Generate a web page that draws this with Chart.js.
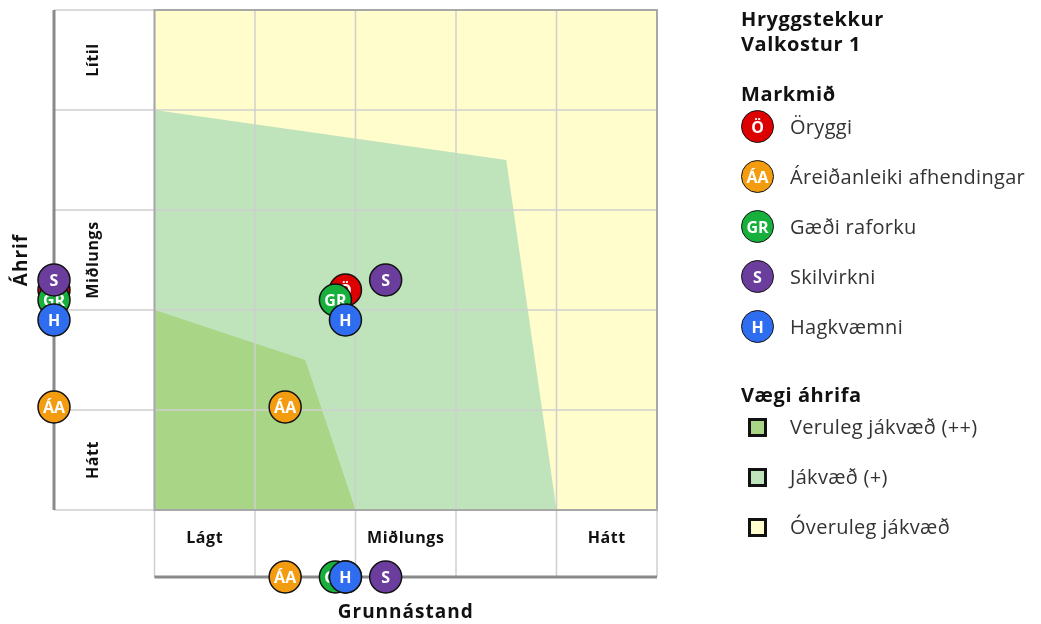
<!DOCTYPE html>
<html>
<head>
<meta charset="utf-8">
<script src="https://cdn.jsdelivr.net/npm/chart.js@4/dist/chart.umd.min.js"></script>
<style>
    html, body { margin: 0; padding: 0; background: #fff; }
    body { width: 1041px; height: 624px; position: relative; overflow: hidden; font-family: 'Open Sans', sans-serif; }
    #wrap { position: absolute; left: 0; top: 0; width: 1041px; height: 624px; }
    #legend { position: absolute; left: 741px; top: 0; width: 300px; color: #222; }
    .ttl { position: absolute; left: 0; font-weight: 700; font-size: 20px; letter-spacing: 0.6px; color: #111; white-space: nowrap; line-height: 24px; }
    .item { position: absolute; left: 0; height: 34px; white-space: nowrap; }
    .dot { position: absolute; left: 0; top: 0; width: 31px; height: 31px; border: 1.5px solid #111; border-radius: 50%;
        color: #fff; font-weight: 700; font-size: 16px; text-align: center; line-height: 32px; }
    .sq { position: absolute; left: 7px; top: 8px; width: 13px; height: 13px; border: 3px solid #111; }
    .lbl { position: absolute; left: 49px; top: 0; line-height: 34px; font-size: 20px; color: #333; letter-spacing: 0.3px; }
</style>
</head>
<body>
<div id="wrap"><canvas id="chart"></canvas></div>
<div id="legend"></div>
<script>
// Markmið (objectives)
const objectives = ['Öryggi', 'Áreiðanleiki afhendingar', 'Gæði raforku', 'Skilvirkni', 'Hagkvæmni'];
const codes = ['Ö', 'ÁA', 'GR', 'S', 'H'];
const colors = ['#dd0000', '#f39c0f', '#17b03c', '#6b3d9c', '#2f6df0'];
// position on Grunnástand (x) and Áhrif (y), 0..5
const baseline = [1.9, 1.3, 1.8, 2.3, 1.9];
const impact = [2.2, 1.03, 2.1, 2.3, 1.9];

// Vægi áhrifa zones (outline points, filled down to 0)
const zoneNames = ['Veruleg jákvæð (++)', 'Jákvæð (+)', 'Óveruleg jákvæð'];
const zoneColors = ['#a9d586', '#bfe3ba', '#fffdcc'];
const strongZone = [{x: 0, y: 2}, {x: 1.5, y: 1.5}, {x: 2, y: 0}];
const positiveZone = [{x: 0, y: 4}, {x: 3.5, y: 3.5}, {x: 4, y: 0}];
const minorZone = [{x: 0, y: 5}, {x: 5, y: 5}];

const xCatLabels = ['Lágt', '', 'Miðlungs', '', 'Hátt'];
const yCatLabels = ['Hátt', '', 'Miðlungs', '', 'Lítil'];
const gridSteps = [0, 1, 2, 3, 4, 5];
const sideAxisX = -1;      // left strip axis
const bottomAxisY = -0.67; // bottom strip axis

const zoneDs = (data, color, order, id) => ({
    id, data, order,
    showLine: true, fill: 'origin',
    backgroundColor: color, borderWidth: 0, pointRadius: 0
});

const pointDs = objectives.map((name, i) => ({
    label: name,
    code: codes[i],
    data: [
        {x: baseline[i], y: impact[i]},
        {x: sideAxisX, y: impact[i]},
        {x: baseline[i], y: bottomAxisY}
    ],
    order: 5 - i,
    clip: false,
    pointRadius: 16,
    pointBackgroundColor: colors[i],
    pointBorderColor: '#111',
    pointBorderWidth: 1.5
}));

const framePlugin = {
    id: 'frame',
    afterDatasetDraw(chart, args) {
        const ctx = chart.ctx;
        const ds = chart.data.datasets[args.index];
        const xs = chart.scales.x, ys = chart.scales.y;

        if (ds.code) {
            ctx.save();
            ctx.fillStyle = '#fff';
            ctx.font = 'bold 16px "Open Sans"';
            ctx.textAlign = 'center';
            ctx.textBaseline = 'middle';
            args.meta.data.forEach(el => ctx.fillText(ds.code, el.x, el.y + 1));
            ctx.restore();
            return;
        }
        if (ds.id !== 'strong') return;

        const top = ys.getPixelForValue(5), y0 = ys.getPixelForValue(0), yb = ys.getPixelForValue(bottomAxisY);
        const left = xs.getPixelForValue(sideAxisX), x0 = xs.getPixelForValue(0), x5 = xs.getPixelForValue(5);

        ctx.save();
        // grid
        ctx.strokeStyle = '#cfcfcf';
        ctx.lineWidth = 1.5;
        gridSteps.forEach(v => {
            const px = xs.getPixelForValue(v);
            ctx.beginPath(); ctx.moveTo(px, top); ctx.lineTo(px, yb); ctx.stroke();
            const py = ys.getPixelForValue(v);
            ctx.beginPath(); ctx.moveTo(left, py); ctx.lineTo(x5, py); ctx.stroke();
        });
        // plot border
        ctx.strokeStyle = '#a8a8a8';
        ctx.lineWidth = 2;
        ctx.strokeRect(x0, top, x5 - x0, y0 - top);
        // axis lines
        ctx.strokeStyle = '#8a8a8a';
        ctx.lineWidth = 3;
        ctx.beginPath(); ctx.moveTo(left, top); ctx.lineTo(left, y0); ctx.stroke();
        ctx.beginPath(); ctx.moveTo(x0, yb); ctx.lineTo(x5, yb); ctx.stroke();

        // category labels
        ctx.fillStyle = '#111';
        ctx.font = 'bold 16px "Open Sans"';
        ctx.letterSpacing = '0.6px';
        ctx.textAlign = 'center';
        ctx.textBaseline = 'middle';
        xCatLabels.forEach((t, i) => {
            if (!t) return;
            ctx.fillText(t, xs.getPixelForValue(i + 0.5), 538);
        });
        yCatLabels.forEach((t, i) => {
            if (!t) return;
            ctx.save();
            ctx.translate(93, ys.getPixelForValue(i + 0.5));
            ctx.rotate(-Math.PI / 2);
            ctx.fillText(t, 0, 0);
            ctx.restore();
        });

        // axis titles
        ctx.font = 'bold 19px "Open Sans"';
        ctx.letterSpacing = '1px';
        ctx.fillText('Grunnástand', xs.getPixelForValue(2.5), 613);
        ctx.save();
        ctx.translate(22, ys.getPixelForValue(2.5));
        ctx.rotate(-Math.PI / 2);
        ctx.fillText('Áhrif', 0, 0);
        ctx.restore();
        ctx.restore();
    }
};

new Chart(document.getElementById('chart'), {
    type: 'scatter',
    data: {
        datasets: [
            zoneDs(minorZone, zoneColors[2], 10, 'minor'),
            zoneDs(positiveZone, zoneColors[1], 9, 'positive'),
            zoneDs(strongZone, zoneColors[0], 8, 'strong'),
            ...pointDs
        ]
    },
    options: {
        responsive: true,
        maintainAspectRatio: false,
        animation: false,
        events: [],
        layout: { autoPadding: false, padding: { left: 54, top: 10, right: 384, bottom: 47 } },
        plugins: { legend: { display: false }, tooltip: { enabled: false } },
        scales: {
            x: { type: 'linear', min: sideAxisX, max: 5, display: false },
            y: { type: 'linear', min: bottomAxisY, max: 5, display: false }
        }
    },
    plugins: [framePlugin]
});

// legend on the right
const legend = document.getElementById('legend');
let html = '<div class="ttl" style="top:7px">Hryggstekkur</div>'
    + '<div class="ttl" style="top:32px">Valkostur 1</div>'
    + '<div class="ttl" style="top:82px">Markmið</div>';
objectives.forEach((name, i) => {
    html += `<div class="item" style="top:${110 + i * 50}px">
        <div class="dot" style="background:${colors[i]}">${codes[i]}</div>
        <div class="lbl">${name}</div></div>`;
});
html += '<div class="ttl" style="top:383px">Vægi áhrifa</div>';
zoneNames.forEach((name, i) => {
    html += `<div class="item" style="top:${410 + i * 50}px">
        <div class="sq" style="background:${zoneColors[i]}"></div>
        <div class="lbl">${name}</div></div>`;
});
legend.innerHTML = html;
</script>
</body>
</html>
